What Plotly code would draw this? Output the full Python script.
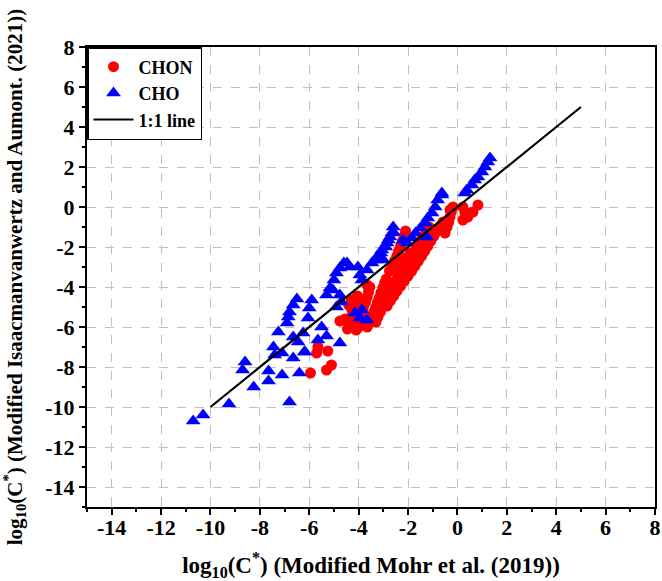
import plotly.graph_objects as go

# CHON compounds (red circles), log10 C* values
chon_x = [-5.95, -5.3, -5.1, -5.7, -5.65, -5.25,
          -4.76, -4.55, -4.35, -4.27, -4.3, -4.4,
          -4.45, -4.4, -4.3, -4.25, -4.2, -4.15, -4.1, -4.05,
          -4.1, -4.0, -3.95, -3.9, -3.85, -3.8, -3.72, -3.65, -3.6, -3.55,
          -3.65, -3.55, -3.47, -3.4, -3.32, -3.25, -3.17, -3.1, -3.02, -2.95, -2.88,
          -3.3, -3.22, -3.12, -3.03, -2.93, -2.83, -2.73, -2.63, -2.52, -2.42, -2.32, -2.22, -2.12, -2.02, -1.92,
          -2.85, -2.72, -2.58, -2.45, -2.3, -2.15, -2.0, -1.85, -1.72, -1.58, -1.45, -1.32, -1.2, -1.08, -0.95, -0.82, -0.7, -0.58,
          -2.1, -2.15, -2.22, -2.3, -2.38, -2.45, -2.55, -2.65, -2.75,
          -2.0, -1.9, -1.8, -1.7, -1.6, -1.5, -1.4, -1.28, -1.15,
          -0.5, -0.42, -0.35, -0.3, -0.25, -0.18, -0.3,
          0.22, 0.3, 0.22, 0.42, 0.63, 0.83, 0.35, -3.66]
chon_y = [-8.3, -8.15, -7.9, -7.3, -7.0, -7.2,
          -5.7, -5.6, -5.55, -5.15, -4.65, -4.9,
          -6.1, -5.9, -5.7, -5.45, -5.2, -4.95, -4.7, -4.45,
          -6.15, -6.0, -5.75, -5.5, -5.25, -5.0, -4.75, -4.5, -4.25, -4.0,
          -6.0, -5.8, -5.55, -5.3, -5.05, -4.8, -4.55, -4.3, -4.05, -3.8, -3.6,
          -5.75, -5.5, -5.25, -5.0, -4.75, -4.5, -4.25, -4.0, -3.75, -3.5, -3.25, -3.0, -2.75, -2.5, -2.3,
          -4.95, -4.7, -4.45, -4.2, -3.95, -3.7, -3.45, -3.2, -2.95, -2.7, -2.45, -2.2, -1.95, -1.7, -1.45, -1.2, -0.95, -0.75,
          -1.2, -1.45, -1.7, -1.95, -2.2, -2.45, -2.7, -2.95, -3.2,
          -2.9, -2.65, -2.4, -2.15, -1.9, -1.7, -1.5, -1.25, -1.0,
          -1.3, -1.0, -0.75, -0.5, -0.25, 0.0, -0.15,
          0.0, -0.25, -0.65, -0.5, -0.25, 0.1, -0.45, -3.9]

# CHO compounds (blue triangles)
cho_x = [-10.7, -10.3, -9.25, -8.25, -8.7, -8.6, -7.65, -7.65, -7.1, -6.8, -6.4,
         -7.45, -7.4, -7.25, -7.1, -6.9, -6.85, -6.8, -6.65, -6.5,
         -6.65, -6.45, -6.65, -6.2,
         -6.25, -6.17, -6.05, -6.0, -5.9, -5.5, -5.3, -5.65, -4.76,
         -5.3, -5.16, -5.0, -4.9, -4.76, -4.6, -4.47, -4.76, -4.7, -4.9, -5.04, -4.35,
         -4.03, -3.95, -3.87, -3.66, -3.46, -3.26, -3.06, -2.85, -2.73, -2.6,
         -2.6, -2.65, -2.8, -2.9, -3.1, -3.3, -3.0,
         -4.15, -3.95, -3.66, -3.87,
         -2.2, -2.05, -1.85, -1.7, -1.5, -1.3, -1.2, -1.03, -0.9, -0.8, -0.63, -0.63, -1.24,
         0.3, 0.38, 0.59, 0.7, 0.83, 0.99, 1.11, 1.23, 1.32]
cho_y = [-10.7, -10.4, -9.85, -9.0, -8.15, -7.75, -8.7, -8.2, -8.4, -9.75, -8.3,
         -7.0, -7.4, -6.25, -7.3, -5.8, -5.5, -5.25, -4.9, -4.6,
         -6.5, -6.75, -7.55, -7.25,
         -6.3, -7.25, -5.55, -5.05, -4.65, -6.0, -6.45, -6.65, -6.8,
         -4.4, -4.05, -3.65, -3.3, -3.05, -2.8, -2.8, -4.4, -4.75, -5.0, -4.15, -3.0,
         -3.0, -3.4, -3.65, -3.15, -2.8, -2.5, -2.15, -1.8, -1.5, -1.25,
         -1.0, -1.3, -1.65, -2.0, -2.3, -2.65, -2.65,
         -5.3, -5.55, -5.65, -5.15,
         -1.65, -1.8, -1.55, -1.3, -1.05, -0.8, -0.55, -0.3, 0.0, 0.35, 0.7, 0.6, -1.5,
         0.7, 0.85, 1.1, 1.35, 1.5, 1.75, 2.0, 2.25, 2.45]

line_x = [-10, 5]
line_y = [-10, 5]

tick_vals = [-14, -12, -10, -8, -6, -4, -2, 0, 2, 4, 6, 8]
tick_text = ["<b>%d</b>" % v for v in tick_vals]

serif = "Liberation Serif"
font = dict(family=serif, size=22, color="black", weight="bold")
tickfont = dict(family=serif, size=22, color="black", weight=700)

fig = go.Figure()
fig.add_trace(go.Scatter(x=chon_x, y=chon_y, mode="markers", name="CHON",
                         marker=dict(symbol="circle", size=11, color="red")))
fig.add_trace(go.Scatter(x=cho_x, y=cho_y, mode="markers", name="CHO",
                         marker=dict(symbol="triangle-up", size=13, color="blue")))
fig.add_trace(go.Scatter(x=line_x, y=line_y, mode="lines", name="1:1 line",
                         line=dict(color="black", width=2.2)))

axis_common = dict(
    range=[-15, 8.001], tickvals=tick_vals, ticktext=tick_text,
    showline=True, linecolor="black", linewidth=2, mirror=True,
    ticks="outside", ticklen=6, tickwidth=1.5, tickcolor="black",
    minor=dict(dtick=1, tick0=0, ticks="outside", ticklen=3, tickcolor="black", showgrid=False),
    showgrid=True, gridcolor="#c0c0c0", griddash="dash", gridwidth=1,
    zeroline=False, automargin=False, ticklabeloverflow="allow",
)

fig.update_layout(
    width=662, height=581,
    margin=dict(l=87, r=7, t=47, b=74),
    plot_bgcolor="white", paper_bgcolor="white",
    font=font,
    xaxis=dict(axis_common, tickfont=tickfont, ticklabelstandoff=-6, title=dict(
        text="<b>log<sub>10</sub>(C<sup>*</sup>) (Modified Mohr et al. (2019))</b>",
        font=dict(font, size=23), standoff=30)),
    yaxis=dict(axis_common, tickfont=tickfont, title=dict(
        text="<b>log<sub>10</sub>(C<sup>*</sup>) (Modified Isaacmanvanwertz and Aumont. (2021))</b>",
        font=dict(font, size=21), standoff=18)),
    legend=dict(x=0, y=1, xanchor="left", yanchor="top", bgcolor="white",
                bordercolor="black", borderwidth=1.5, font=dict(font, size=18),
                tracegroupgap=0, itemwidth=40),
    showlegend=True,
)

# drop the default 8px page margin so the figure sits at the window's corner
fig.write_html("out.html", config={"displayModeBar": False},
               post_script="document.body.style.margin='0';")
